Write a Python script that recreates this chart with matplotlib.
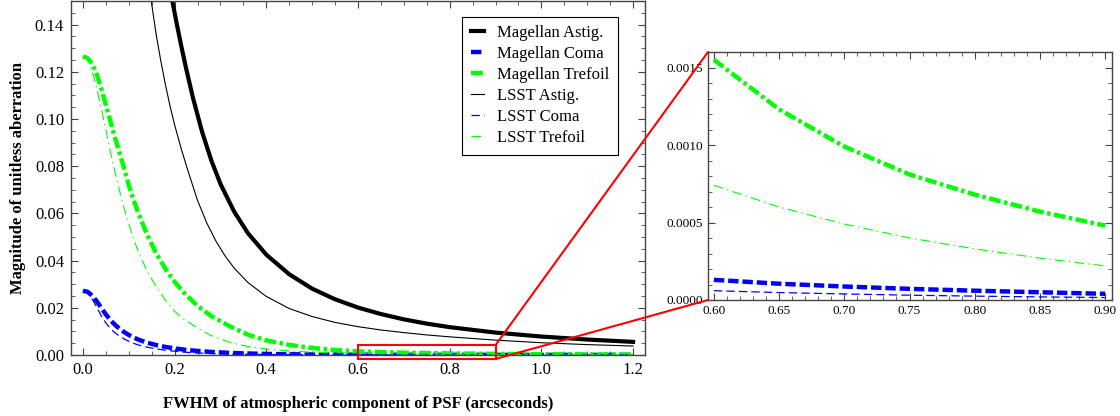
import numpy as np
import matplotlib.pyplot as plt
from matplotlib.patches import Rectangle, ConnectionPatch
from matplotlib.ticker import MultipleLocator, FormatStrFormatter

plt.rcParams['font.family'] = ['Liberation Serif', 'DejaVu Serif']
plt.rcParams['lines.scale_dashes'] = False

# values
fwhm = [0, 0.01, 0.02, 0.03, 0.04, 0.05, 0.06, 0.07, 0.08, 0.09, 0.10, 0.11, 0.12,
        0.14, 0.16, 0.18, 0.20, 0.22, 0.25, 0.28, 0.32, 0.36, 0.40, 0.45, 0.50, 0.55,
        0.60, 0.65, 0.70, 0.75, 0.80, 0.85, 0.90, 1.00, 1.10, 1.20]

mag_trefoil = [0.1265, 0.1258, 0.1235, 0.1190, 0.1130, 0.1060, 0.0990, 0.0920, 0.0855, 0.0790,
               0.0720, 0.0660, 0.0605, 0.0510, 0.0430, 0.0365, 0.0310, 0.0265, 0.0208, 0.0165,
               0.0122, 0.0086, 0.0062, 0.0043, 0.0030, 0.0021, 0.00155, 0.00123, 0.00099, 0.00081,
               0.00068, 0.00057, 0.00048, 0.00034, 0.00026, 0.00020]
lsst_trefoil = [0.1265, 0.1252, 0.1205, 0.1130, 0.1045, 0.0955, 0.0860, 0.0775, 0.0695, 0.0620,
                0.0555, 0.0495, 0.0442, 0.0355, 0.0290, 0.0232, 0.0185, 0.0152, 0.0114, 0.0082,
                0.0054, 0.0036, 0.0025, 0.0017, 0.0012, 0.00092, 0.00074, 0.00060, 0.00049, 0.00040,
                0.00033, 0.00027, 0.00022, 0.00015, 0.00011, 0.00008]
mag_coma = [0.0272, 0.0268, 0.0252, 0.0228, 0.0200, 0.0172, 0.0148, 0.0128, 0.0111, 0.0097,
            0.0085, 0.0075, 0.0066, 0.0052, 0.0042, 0.0034, 0.0028, 0.0023, 0.0017, 0.0013,
            0.00090, 0.00064, 0.00046, 0.00032, 0.00023, 0.00017, 0.000130, 0.000105, 0.000087, 0.000072,
            0.000060, 0.000050, 0.000040, 0.000029, 0.000022, 0.000017]
lsst_coma = [0.0272, 0.0264, 0.0238, 0.0203, 0.0166, 0.0136, 0.0112, 0.0094, 0.0080, 0.0068,
             0.0058, 0.0050, 0.0043, 0.0033, 0.0026, 0.0020, 0.0016, 0.0012, 0.00085, 0.00060,
             0.00040, 0.00028, 0.00020, 0.00014, 0.000100, 0.000076, 0.000060, 0.000048, 0.000039, 0.000031,
             0.000025, 0.000020, 0.000016, 0.000011, 0.000008, 0.000006]

mag_astig_x = [0.195, 0.205, 0.215, 0.225, 0.24, 0.26, 0.28, 0.30, 0.33, 0.36, 0.40, 0.45,
               0.50, 0.55, 0.60, 0.65, 0.70, 0.75, 0.80, 0.90, 1.00, 1.10, 1.20]
mag_astig = [0.150, 0.140, 0.1305, 0.1215, 0.109, 0.0945, 0.0825, 0.0725, 0.0607, 0.0516, 0.0425, 0.0342,
             0.0281, 0.0236, 0.0201, 0.01735, 0.0151, 0.01328, 0.0118, 0.0095, 0.00782, 0.00655, 0.00556]
lsst_astig_x = [0.149, 0.16, 0.17, 0.18, 0.19, 0.20, 0.215, 0.23, 0.25, 0.27, 0.29, 0.31, 0.33,
                0.36, 0.40, 0.45, 0.50, 0.55, 0.60, 0.65, 0.70, 0.75, 0.80, 0.90, 1.00, 1.10, 1.20]
lsst_astig = [0.150, 0.1355, 0.1245, 0.1145, 0.1055, 0.0975, 0.0870, 0.0775, 0.0655, 0.0560, 0.0483,
              0.0420, 0.0368, 0.0307, 0.0248, 0.0197, 0.0163, 0.0138, 0.0120, 0.0106, 0.0095, 0.0085,
              0.0077, 0.0063, 0.0052, 0.0044, 0.0038]

labels = ['Magellan Astig.', 'Magellan Coma', 'Magellan Trefoil',
          'LSST Astig.', 'LSST Coma', 'LSST Trefoil']

green = '#00ff00'
blue = '#0000ff'
frame = '#444444'

fig = plt.figure(figsize=(11.2, 4.16), dpi=100)
ax = fig.add_axes([71 / 1120, 61 / 416, 574 / 1120, 354 / 416])
axin = fig.add_axes([708 / 1120, 116 / 416, 404 / 1120, 248 / 416])


def draw_curves(a, lo, hi):
    x = np.array(fwhm)
    m = (x >= lo - 1e-9) & (x <= hi + 1e-9)
    xa = np.array(mag_astig_x)
    ma = (xa >= lo - 1e-9) & (xa <= hi + 1e-9)
    xl = np.array(lsst_astig_x)
    ml = (xl >= lo - 1e-9) & (xl <= hi + 1e-9)
    h = []
    h += a.plot(xa[ma], np.array(mag_astig)[ma], color='black', lw=3.0)
    h += a.plot(x[m], np.array(mag_coma)[m], color=blue, lw=3.2, dashes=(7.5, 2.8))
    h += a.plot(x[m], np.array(mag_trefoil)[m], color=green, lw=3.2, dashes=(8.5, 2.5, 2.5, 2.5))
    h += a.plot(xl[ml], np.array(lsst_astig)[ml], color='black', lw=0.8)
    h += a.plot(x[m], np.array(lsst_coma)[m], color=blue, lw=0.9, dashes=(6, 3))
    h += a.plot(x[m], np.array(lsst_trefoil)[m], color=green, lw=0.8, dashes=(7, 3, 1, 3))
    return h


handles = draw_curves(ax, 0.0, 1.2)
draw_curves(axin, 0.6, 0.9)

ax.set_xlim(-0.026, 1.226)
ax.set_ylim(0, 0.15)
ax.xaxis.set_major_locator(MultipleLocator(0.2))
ax.xaxis.set_minor_locator(MultipleLocator(0.05))
ax.yaxis.set_major_locator(MultipleLocator(0.02))
ax.yaxis.set_minor_locator(MultipleLocator(0.005))
ax.xaxis.set_major_formatter(FormatStrFormatter('%.1f'))
ax.yaxis.set_major_formatter(FormatStrFormatter('%.2f'))

axin.set_xlim(0.5955, 0.9052)
axin.set_ylim(0, 0.0016)
axin.xaxis.set_major_locator(MultipleLocator(0.05))
axin.xaxis.set_minor_locator(MultipleLocator(0.01))
axin.yaxis.set_major_locator(MultipleLocator(0.0005))
axin.yaxis.set_minor_locator(MultipleLocator(0.0001))
axin.xaxis.set_major_formatter(FormatStrFormatter('%.2f'))
axin.yaxis.set_major_formatter(FormatStrFormatter('%.4f'))

for a, fs, pad in [(ax, 12, 5), (axin, 9.5, 3.5)]:
    a.tick_params(which='both', direction='in', top=True, right=True,
                  color=frame, labelcolor='black', labelsize=fs, pad=pad)
    a.tick_params(which='major', length=5, width=0.8)
    a.tick_params(which='minor', length=3, width=0.6)
    for s in a.spines.values():
        s.set_color(frame)
        s.set_linewidth(1.0)

ax.set_xlabel('FWHM of atmospheric component of PSF (arcseconds)', fontsize=12, fontweight='bold')
ax.set_ylabel('Magnitude of unitless aberration', fontsize=12, fontweight='bold')
ax.xaxis.set_label_coords(0.5, -0.115)
ax.yaxis.set_label_coords(-0.078, 0.5)

# zoom box and connectors
rect = Rectangle((0.6, -0.0017), 0.3, 0.0059, fill=False, edgecolor='red', lw=1.5,
                 clip_on=False, zorder=5)
ax.add_patch(rect)
for ya, yb in [(0.0042, 1), (-0.0017, 0)]:
    con = ConnectionPatch(xyA=(0.9, ya), coordsA=ax.transData,
                          xyB=(0, yb), coordsB=axin.transAxes,
                          color='red', lw=1.5, zorder=6)
    fig.add_artist(con)

leg = fig.legend(handles, labels, loc='upper right',
                 bbox_to_anchor=(618 / 1120, 1 - 17 / 416), borderaxespad=0,
                 fontsize=12, handlelength=0.8, handletextpad=0.8, borderpad=0.5,
                 labelspacing=0.3, fancybox=False, framealpha=1, edgecolor='black')
leg.get_frame().set_linewidth(0.8)

fig.savefig('out.png', dpi=100)
